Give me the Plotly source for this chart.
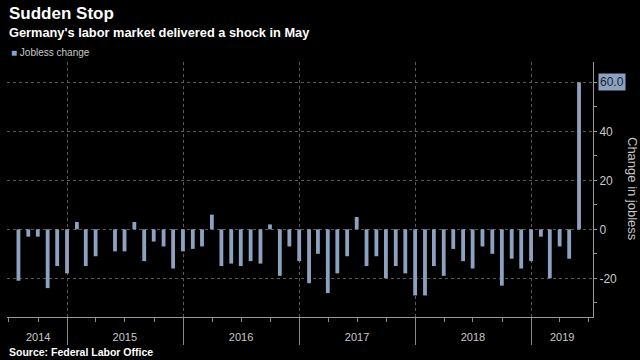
import pandas as pd
import plotly.graph_objects as go

# ---- data ----
series_name = "Jobless change"
start_month = "2014-07-31"   # first observation (month-end)
jobless_change = [
    -21, -3, -3, -24, -15, -18,                              # 2014 Jul-Dec
    3, -15, -11, 0, -9, -9, 3, -13, -5, -7, -16, -9,         # 2015
    -8, -7, 6, -15, -14, -15, -13, -14, 2, -19, -7, -13,     # 2016
    -22, -10, -26, -18, -11, 5, -15, -11, -20, -15, -18, -27,  # 2017
    -27, -15, -19, -8, -13, -16, -7, -10, -23, -12, -16, -13,  # 2018
    -3, -20, -7, -12, 60,                                    # 2019 Jan-May
]
year_labels = ["2014", "2015", "2016", "2017", "2018", "2019"]
year_label_pos = ["2014-10-01", "2015-07-01", "2016-07-01", "2017-07-01", "2018-07-01", "2019-04-08"]
year_breaks = ["2015-01-01", "2016-01-01", "2017-01-01", "2018-01-01", "2019-01-01"]
y_ticks = [-20, 0, 20, 40, 60]
y_ticktext = ["-20", "0", "20", "40", ""]

dates = pd.date_range(start=start_month, periods=len(jobless_change), freq="ME")

BAR = "#8da2c0"
TXT = "#c8c8c8"
GRID = "#5a5a5a"
FONT = "Liberation Sans, Arial, sans-serif"
x_range = ["2014-06-25", "2019-07-14"]

fig = go.Figure()
fig.add_trace(go.Bar(
    x=dates, y=jobless_change, name=series_name,
    marker=dict(color=BAR, line=dict(width=0)),
    width=12 * 86400000, xaxis="x", yaxis="y", showlegend=False,
))
# invisible trace to activate label axis
fig.add_trace(go.Scatter(x=[dates[0]], y=[None], xaxis="x2", yaxis="y",
                         showlegend=False, hoverinfo="skip"))

fig.update_layout(
    width=640, height=360,
    paper_bgcolor="black", plot_bgcolor="black",
    margin=dict(l=7, r=47, t=62, b=43, autoexpand=False),
    font=dict(family=FONT, color=TXT, size=12),
    showlegend=False,
    xaxis=dict(
        type="date", range=x_range,
        tickvals=year_breaks, showticklabels=False,
        ticks="outside", ticklen=27, tickcolor="#888", tickwidth=1,
        showgrid=True, gridcolor=GRID, griddash="dot", gridwidth=1,
        showline=True, linecolor="#999", linewidth=1,
        minor=dict(dtick="M3", tick0="2014-01-01", ticks="outside",
                   ticklen=4, tickcolor="#888", showgrid=False),
        zeroline=False,
    ),
    xaxis2=dict(
        type="date", range=x_range, overlaying="x", anchor="y", side="bottom",
        tickvals=year_label_pos, ticktext=year_labels,
        ticks="outside", ticklen=10, tickcolor="rgba(0,0,0,0)",
        showgrid=False, showline=False, zeroline=False,
        tickfont=dict(size=11, color=TXT),
    ),
    yaxis=dict(
        side="right", range=[-35.8, 68.3],
        tickvals=y_ticks, ticktext=y_ticktext,
        ticks="outside", ticklen=3, tickcolor="#999",
        showgrid=True, gridcolor=GRID, griddash="dot", gridwidth=1,
        showline=True, linecolor="#999", linewidth=1,
        minor=dict(dtick=10, ticks="outside", ticklen=3, tickcolor="#999", showgrid=False),
        zeroline=False, tickfont=dict(size=12, color=TXT),
    ),
)

annotations = [
    dict(text="<b>Sudden Stop</b>", xref="paper", yref="paper", x=0, y=1.192,
         xanchor="left", yanchor="middle", showarrow=False,
         font=dict(size=17, color="white", family=FONT)),
    dict(text="<b>Germany's labor market delivered a shock in May</b>", xref="paper", yref="paper",
         x=0, y=1.117, xanchor="left", yanchor="middle", showarrow=False,
         font=dict(size=12.8, color="white", family=FONT)),
    dict(text=f"<span style='color:{BAR}'>■</span> {series_name}", xref="paper", yref="paper",
         x=0.004, y=1.039, xanchor="left", yanchor="middle", showarrow=False,
         font=dict(size=10, color=TXT, family=FONT)),
    dict(text="<b>Source: Federal Labor Office</b>", xref="paper", yref="paper",
         x=0, y=-0.137, xanchor="left", yanchor="middle", showarrow=False,
         font=dict(size=10.5, color="white", family=FONT)),
    dict(text="Change in jobless", xref="paper", yref="paper", x=1, y=0.502,
         xanchor="center", yanchor="middle", xshift=39, textangle=90, showarrow=False,
         font=dict(size=13, color=TXT, family=FONT)),
    dict(text=f"{jobless_change[-1]:.1f}", xref="paper", yref="y", x=1, y=jobless_change[-1],
         xanchor="left", yanchor="middle", xshift=5, showarrow=False,
         bgcolor=BAR, borderpad=1,
         font=dict(size=12, color="#14233a", family=FONT)),
]
fig.update_layout(annotations=annotations)

fig.write_html("out.html", config={"displayModeBar": False},
               post_script="document.body.style.margin='0';document.body.style.padding='0';")
